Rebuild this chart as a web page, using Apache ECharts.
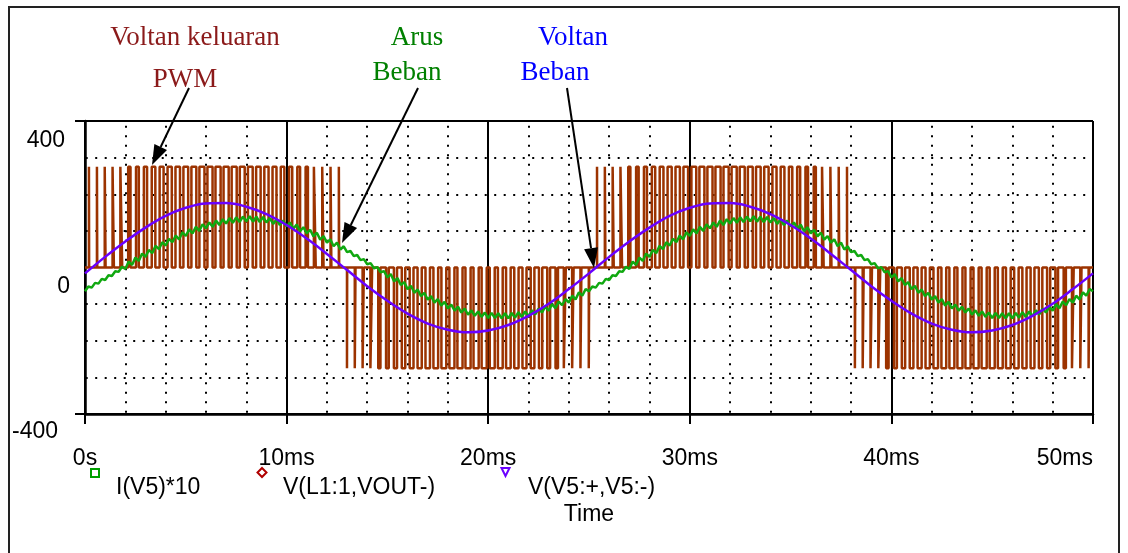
<!DOCTYPE html>
<html>
<head>
<meta charset="utf-8">
<title>PWM inverter</title>
<script src="https://cdn.jsdelivr.net/npm/echarts@6/dist/echarts.min.js"></script>
<style>
html,body{margin:0;padding:0;background:#fff;}
#chart{width:1128px;height:553px;}
</style>
</head>
<body>
<div id="chart"></div>
<script>
// sumbu
var xTicks=[0,10,20,30,40,50];
var xTickLabels=['0s','10ms','20ms','30ms','40ms','50ms'];
var yTicks=[-400,0,400];
var yTickLabels=['-400','0','400'];

// V(V5:+,V5:-) : voltan beban, satu titik tiap 1 ms
var voltStep=1;
var voltBeban=[-16,29,71,109,141,163,175,176,166,146,116,79,37,-7,-51,-91,-126,-153,-170,-177,-172,-157,-132,-99,-59,
  -16,29,71,109,141,163,175,176,166,146,116,79,37,-7,-51,-91,-126,-153,-170,-177,-172,-157,-132,-99,-59,-16];

// I(V5)*10 : arus beban, satu titik tiap 1/6 ms
var arusStep=1/6;
var arusBeban=[
  -65,-52,-55,-42,-44,-31, -34,-21,-23,-10,-12,2, -4,16,7,27,18,38, 29,48,39,59,50,69, 60,78,69,87,77,96,
  86,104,93,111,100,118, 107,123,111,128,116,132, 120,135,122,137,124,139, 126,140,125,139,124,138, 123,135,119,132,116,128,
  112,123,106,117,99,110, 93,103,85,95,76,86, 68,77,58,68,49,58, 42,45,31,34,20,23, 9,12,-2,1,-13,-10,
  -27,-18,-38,-29,-48,-40, -59,-50,-69,-60,-78,-69, -88,-78,-96,-86,-104,-94, -112,-101,-118,-107,-123,-112, -129,-117,-132,-120,-135,-123,
  -138,-124,-138,-125,-139,-125, -139,-124,-137,-122,-135,-120, -133,-117,-128,-112,-123,-107, -118,-100,-111,-93,-103,-86, -96,-77,-87,-68,-77,-59,
  -65,-52,-55,-42,-44,-31, -34,-21,-23,-10,-12,2, -4,16,7,27,18,38, 29,48,39,59,50,69, 60,78,69,87,77,96,
  86,104,93,111,100,118, 107,123,111,128,116,132, 120,135,122,137,124,139, 126,140,125,139,124,138, 123,135,119,132,116,128,
  112,123,106,117,99,110, 93,103,85,95,76,86, 68,77,58,68,49,58, 42,45,31,34,20,23, 9,12,-2,1,-13,-10,
  -27,-18,-38,-29,-48,-40, -59,-50,-69,-60,-78,-69, -88,-78,-96,-86,-104,-94, -112,-101,-118,-107,-123,-112, -129,-117,-132,-120,-135,-123,
  -138,-124,-138,-125,-139,-125, -139,-124,-137,-122,-135,-120, -133,-117,-128,-112,-123,-107, -118,-100,-111,-93,-103,-86, -96,-77,-87,-68,-77,-59,
  -65];

// V(L1:1,VOUT-) : pulsa PWM [naik, turun] dalam ms
var pwmLevel=275;
var pwmPositif=[
  [0.195,0.205],[0.592,0.608],[0.979,1.021],[1.367,1.433],[1.754,1.846],[2.143,2.257],[2.531,2.669],[2.921,3.079],
  [3.311,3.489],[3.702,3.898],[4.095,4.305],[4.488,4.712],[4.882,5.118],[5.278,5.522],[5.675,5.925],[6.073,6.327],
  [6.472,6.728],[6.873,7.127],[7.275,7.525],[7.678,7.922],[8.082,8.318],[8.488,8.712],[8.895,9.105],[9.302,9.498],
  [9.711,9.889],[10.121,10.279],[10.531,10.669],[10.943,11.057],[11.354,11.446],[11.767,11.833],[12.179,12.221],[12.592,12.608],
  [25.398,25.402],[25.786,25.814],[26.173,26.227],[26.56,26.64],[26.948,27.052],[27.337,27.463],[27.726,27.874],[28.116,28.284],
  [28.507,28.693],[28.898,29.102],[29.291,29.509],[29.685,29.915],[30.08,30.32],[30.476,30.724],[30.873,31.127],[31.272,31.528],
  [31.672,31.928],[32.073,32.327],[32.476,32.724],[32.88,33.12],[33.285,33.515],[33.691,33.909],[34.098,34.302],[34.507,34.693],
  [34.916,35.084],[35.326,35.474],[35.737,35.863],[36.148,36.252],[36.56,36.64],[36.973,37.027],[37.386,37.414],[37.798,37.802]
];
var pwmNegatif=[
  [12.995,13.005],[13.382,13.418],[13.77,13.83],[14.157,14.243],[14.545,14.655],[14.934,15.066],[15.323,15.477],[15.714,15.886],
  [16.105,16.295],[16.496,16.704],[16.889,17.111],[17.283,17.517],[17.679,17.921],[18.075,18.325],[18.473,18.727],[18.872,19.128],
  [19.272,19.528],[19.674,19.926],[20.077,20.323],[20.481,20.719],[20.886,21.114],[21.293,21.507],[21.7,21.9],[22.109,22.291],
  [22.518,22.682],[22.929,23.071],[23.34,23.46],[23.751,23.849],[24.164,24.236],[24.576,24.624],[24.989,25.011],
  [38.189,38.211],[38.576,38.624],[38.964,39.036],[39.351,39.449],[39.74,39.86],[40.129,40.271],[40.518,40.682],[40.909,41.091],
  [41.3,41.5],[41.693,41.907],[42.086,42.314],[42.481,42.719],[42.877,43.123],[43.274,43.526],[43.672,43.928],[44.072,44.328],
  [44.473,44.727],[44.875,45.125],[45.279,45.521],[45.683,45.917],[46.089,46.311],[46.496,46.704],[46.905,47.095],[47.314,47.486],
  [47.723,47.877],[48.134,48.266],[48.545,48.655],[48.957,49.043],[49.37,49.43],[49.782,49.818]
];

var sans='"Liberation Sans", Arial, sans-serif';
var serif='"Liberation Serif", "Times New Roman", serif';

var voltData=voltBeban.map(function(v,i){return [i*voltStep,v];});
var arusData=arusBeban.map(function(v,i){return [i*arusStep,v];});

var pulses=pwmPositif.map(function(p){return [p[0],p[1],pwmLevel];})
  .concat(pwmNegatif.map(function(p){return [p[0],p[1],-pwmLevel];}));
pulses.sort(function(a,b){return a[0]-b[0];});
var pwmData=[[0,0]];
pulses.forEach(function(p){
  pwmData.push([p[0],0],[p[0],p[2]],[p[1],p[2]],[p[1],0]);
});
pwmData.push([50,0]);

// panah keterangan
function arrow(x1,y1,x2,y2){
  var dx=x2-x1,dy=y2-y1,len=Math.sqrt(dx*dx+dy*dy);
  var ux=dx/len,uy=dy/len,hl=20,hw=7;
  var bx=x2-ux*hl,by=y2-uy*hl;
  return [
    {type:'line',z:100,shape:{x1:x1,y1:y1,x2:bx,y2:by},style:{stroke:'#000',lineWidth:2}},
    {type:'polygon',z:100,shape:{points:[[x2,y2],[bx-uy*hw,by+ux*hw],[bx+uy*hw,by-ux*hw]]},style:{fill:'#000'}}
  ];
}
function label(txt,x,y,color,font,align){
  return {type:'text',z:100,x:x,y:y,style:{text:txt,fill:color,font:font,align:align||'center',verticalAlign:'middle'}};
}

var graphics=[
  {type:'rect',z:100,shape:{x:9,y:7,width:1110,height:560},style:{fill:'none',stroke:'#222',lineWidth:2}},
  label('Voltan keluaran',195,38,'#8b1a1a','27px '+serif),
  label('PWM',185,80,'#8b1a1a','27px '+serif),
  label('Arus',417,38,'#008000','27px '+serif),
  label('Beban',407,73,'#008000','27px '+serif),
  label('Voltan',573,38,'#0000ff','27px '+serif),
  label('Beban',555,73,'#0000ff','27px '+serif),
  {type:'rect',z:100,shape:{x:91,y:469,width:8,height:8},style:{fill:'none',stroke:'#00a000',lineWidth:2}},
  {type:'polygon',z:100,shape:{points:[[262,468],[266.5,472.5],[262,477],[257.5,472.5]]},style:{fill:'none',stroke:'#b00000',lineWidth:2}},
  {type:'polygon',z:100,shape:{points:[[501.5,468],[509.5,468],[505.5,476]]},style:{fill:'none',stroke:'#6a00ff',lineWidth:2}},
  label('I(V5)*10',116,488,'#000','23px '+sans,'left'),
  label('V(L1:1,VOUT-)',283,488,'#000','23px '+sans,'left'),
  label('V(V5:+,V5:-)',528,488,'#000','23px '+sans,'left'),
  label('Time',589,515,'#000','23px '+sans)
].concat(arrow(189,88,152,165),arrow(418,88,342,243),arrow(567,88,594,268));

var dotted={color:'#000',width:2,type:[2,7.5]};

var chart=echarts.init(document.getElementById('chart'));
chart.setOption({
  animation:false,
  backgroundColor:'#fff',
  grid:{left:85,top:121,width:1008,height:293},
  xAxis:{
    type:'value',min:0,max:50,interval:10,
    axisLine:{onZero:false,lineStyle:{color:'#000',width:2.5}},
    axisTick:{length:10,lineStyle:{color:'#000',width:2}},
    axisLabel:{margin:33,fontSize:23,fontFamily:sans,color:'#000',alignMaxLabel:'right',
      formatter:function(v){return xTickLabels[xTicks.indexOf(v)];}},
    splitLine:{show:true,lineStyle:{color:'#000',width:2}},
    minorTick:{show:false,splitNumber:5},
    minorSplitLine:{show:true,lineStyle:Object.assign({dashOffset:4.7},dotted)}
  },
  yAxis:{
    type:'value',min:-400,max:400,interval:400,
    axisLine:{show:true,lineStyle:{color:'#000',width:2.5}},
    axisTick:{show:true,length:10,customValues:[-400,400],lineStyle:{color:'#000',width:2}},
    axisLabel:{margin:15,verticalAlign:'top',fontSize:23,fontFamily:sans,color:'#000',
      formatter:function(v){var i=yTicks.indexOf(v);return '{'+['n','z','p'][i]+'|'+yTickLabels[i]+'}';},
      rich:{
        p:{fontSize:23,fontFamily:sans,color:'#000',padding:[8,5,0,0]},
        z:{fontSize:23,fontFamily:sans,color:'#000',padding:[8,0,0,0]},
        n:{fontSize:23,fontFamily:sans,color:'#000',padding:[6,12,0,0]}
      }},
    splitLine:{show:true,lineStyle:{color:'#000',width:2}},
    minorTick:{show:false,splitNumber:4},
    minorSplitLine:{show:true,lineStyle:Object.assign({dashOffset:8.8},dotted)}
  },
  series:[
    {name:'V(L1:1,VOUT-)',type:'line',data:pwmData,showSymbol:false,symbol:'none',silent:true,z:2,
      lineStyle:{color:'#9c3300',width:2.5}},
    {name:'I(V5)*10',type:'line',data:arusData,showSymbol:false,symbol:'none',silent:true,z:3,
      lineStyle:{color:'#10a810',width:2.5}},
    {name:'V(V5:+,V5:-)',type:'line',data:voltData,showSymbol:false,symbol:'none',silent:true,z:4,smooth:0.4,
      lineStyle:{color:'#6a00ff',width:2.5}}
  ],
  graphic:graphics
});
</script>
</body>
</html>
